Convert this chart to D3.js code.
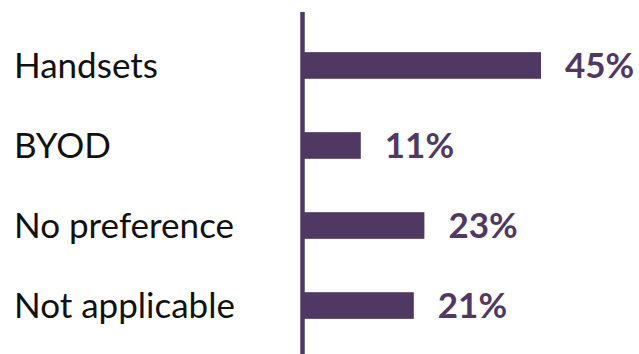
<!DOCTYPE html>
<html>
<head>
<meta charset="utf-8">
<script src="https://cdn.jsdelivr.net/npm/d3@7"></script>
<style>
  html, body { margin: 0; padding: 0; background: #fff; }
  svg { display: block; }
</style>
</head>
<body>
<svg id="chart" width="639" height="354"></svg>
<script>
// Share of respondents by device preference
const categories = ["Handsets", "BYOD", "No preference", "Not applicable"];
const values = [45, 11, 23, 21];
const valueLabels = ["45%", "11%", "23%", "21%"];

const width = 639, height = 354;
const barColor = "#4f3862";
const axisX = 302.5;

const svg = d3.select("#chart");

const x = d3.scaleLinear().domain([0, 45]).range([axisX, 541]);
const y = d3.scaleBand().domain(categories).range([25.5, 345.5]).paddingInner(0.667).paddingOuter(0.333);

// bars
svg.selectAll("rect.bar")
  .data(categories)
  .enter().append("rect")
  .attr("class", "bar")
  .attr("x", x(0))
  .attr("y", d => y(d))
  .attr("width", (d, i) => x(values[i]) - x(0))
  .attr("height", y.bandwidth())
  .attr("fill", barColor);

// vertical axis line
svg.append("line")
  .attr("x1", axisX).attr("x2", axisX)
  .attr("y1", 12).attr("y2", height)
  .attr("stroke", barColor)
  .attr("stroke-width", 4.5);

// category labels
svg.selectAll("text.cat")
  .data(categories)
  .enter().append("text")
  .attr("class", "cat")
  .attr("x", 14)
  .attr("y", d => y(d) + y.bandwidth() / 2)
  .attr("dy", "0.35em")
  .attr("font-family", "Lato, sans-serif")
  .attr("font-size", 35)
  .attr("fill", "#111")
  .text(d => d);

// value labels
svg.selectAll("text.val")
  .data(categories)
  .enter().append("text")
  .attr("class", "val")
  .attr("x", (d, i) => x(values[i]) + 24)
  .attr("y", d => y(d) + y.bandwidth() / 2)
  .attr("dy", "0.35em")
  .attr("font-family", "Lato, sans-serif")
  .attr("font-weight", "bold")
  .attr("font-size", 35)
  .attr("fill", barColor)
  .text((d, i) => valueLabels[i]);
</script>
</body>
</html>
